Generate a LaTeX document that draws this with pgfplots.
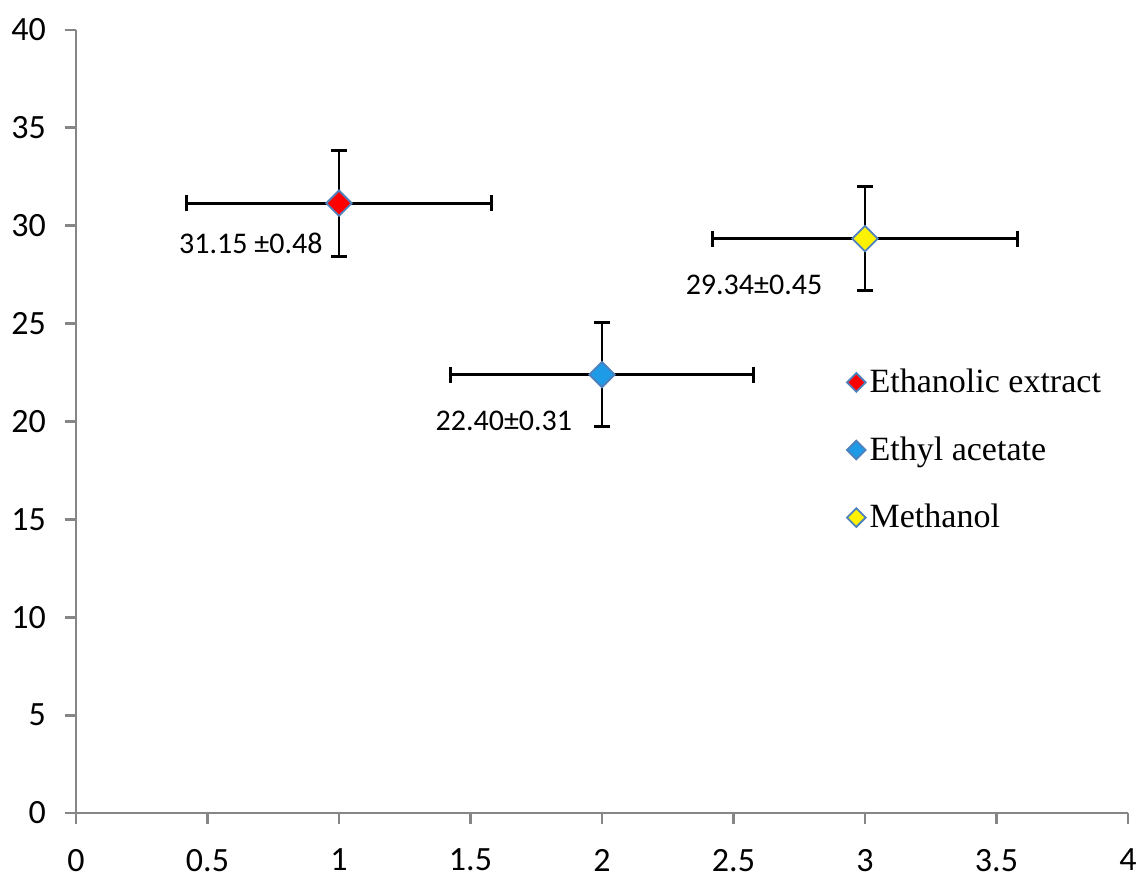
\documentclass[border=0pt]{standalone}
\usepackage{pgfplots}
\pgfplotsset{compat=1.18}
\usepackage{fontspec}
\setmainfont{Liberation Serif}
\newfontfamily\calibri{Carlito}
\definecolor{axgray}{RGB}{134,134,134}
\definecolor{medge}{RGB}{79,129,189}
\definecolor{ethblue}{RGB}{30,155,230}
\pgfplotsset{
  myerr/.style={
    /pgfplots/error bars/x dir=both, /pgfplots/error bars/x explicit,
    /pgfplots/error bars/y dir=both, /pgfplots/error bars/y explicit,
    /pgfplots/error bars/error bar style={black, line width=1.4pt},
    /pgfplots/error bars/error mark=|,
    /pgfplots/error bars/error mark options={black, line width=1.5pt, mark size=4pt}},
}
\begin{document}
\begin{tikzpicture}
\begin{axis}[
  scale only axis, width=526pt, height=391.5pt,
  xmin=0, xmax=4, ymin=0, ymax=40,
  xtick={0,0.5,...,4}, ytick={0,5,...,40},
  axis x line*=bottom, axis y line*=left,
  axis line style={draw=axgray, line width=1.4pt},
  every outer x axis line/.append style={draw=axgray, line width=1.4pt},
  every outer y axis line/.append style={draw=axgray, line width=1.4pt},
  every tick/.append style={draw=axgray, line width=1.4pt},
  major tick style={draw=axgray, line width=1.4pt},
  tick align=outside, major tick length=5.5pt,
  ticklabel style={font=\calibri\fontsize{17}{20}\selectfont, text=black},
  xticklabel style={yshift=-9pt},
  yticklabel style={xshift=-6pt},
  /pgf/number format/assume math mode=true,
  clip=false,
  legend style={at={(axis cs:2.93,22.9)}, anchor=north west, draw=none, fill=none,
    font=\fontsize{17}{20}\selectfont, row sep=16.5pt, inner sep=0pt},
  legend cell align=left,
  legend image code/.code={\draw[#1, mark size=3.3pt] plot coordinates {(0pt,0pt)};},
]
\addplot[only marks, mark=square*, mark size=4.5pt,
  mark options={rotate=45, fill=red, draw=medge, line width=0.9pt}, myerr]
  coordinates {(1,31.15) +- (0.58,2.7)};
\addlegendentry{Ethanolic extract}
\addplot[only marks, mark=square*, mark size=4.5pt,
  mark options={rotate=45, fill=ethblue, draw=medge, line width=0.9pt}, myerr]
  coordinates {(2,22.40) +- (0.575,2.68)};
\addlegendentry{Ethyl acetate}
\addplot[only marks, mark=square*, mark size=4.5pt,
  mark options={rotate=45, fill=yellow, draw=medge, line width=0.9pt}, myerr]
  coordinates {(3,29.34) +- (0.58,2.65)};
\addlegendentry{Methanol}
\node[font=\calibri\fontsize{15}{18}\selectfont] at (axis cs:0.665,29.12) {31.15 ±0.48};
\node[font=\calibri\fontsize{15}{18}\selectfont] at (axis cs:1.627,20.03) {22.40±0.31};
\node[font=\calibri\fontsize{15}{18}\selectfont] at (axis cs:2.578,26.97) {29.34±0.45};
\end{axis}
\pgfresetboundingbox
\path ([xshift=-38pt,yshift=-32pt]current axis.south west) rectangle ([xshift=6pt,yshift=15pt]current axis.north east);
\end{tikzpicture}
\end{document}
